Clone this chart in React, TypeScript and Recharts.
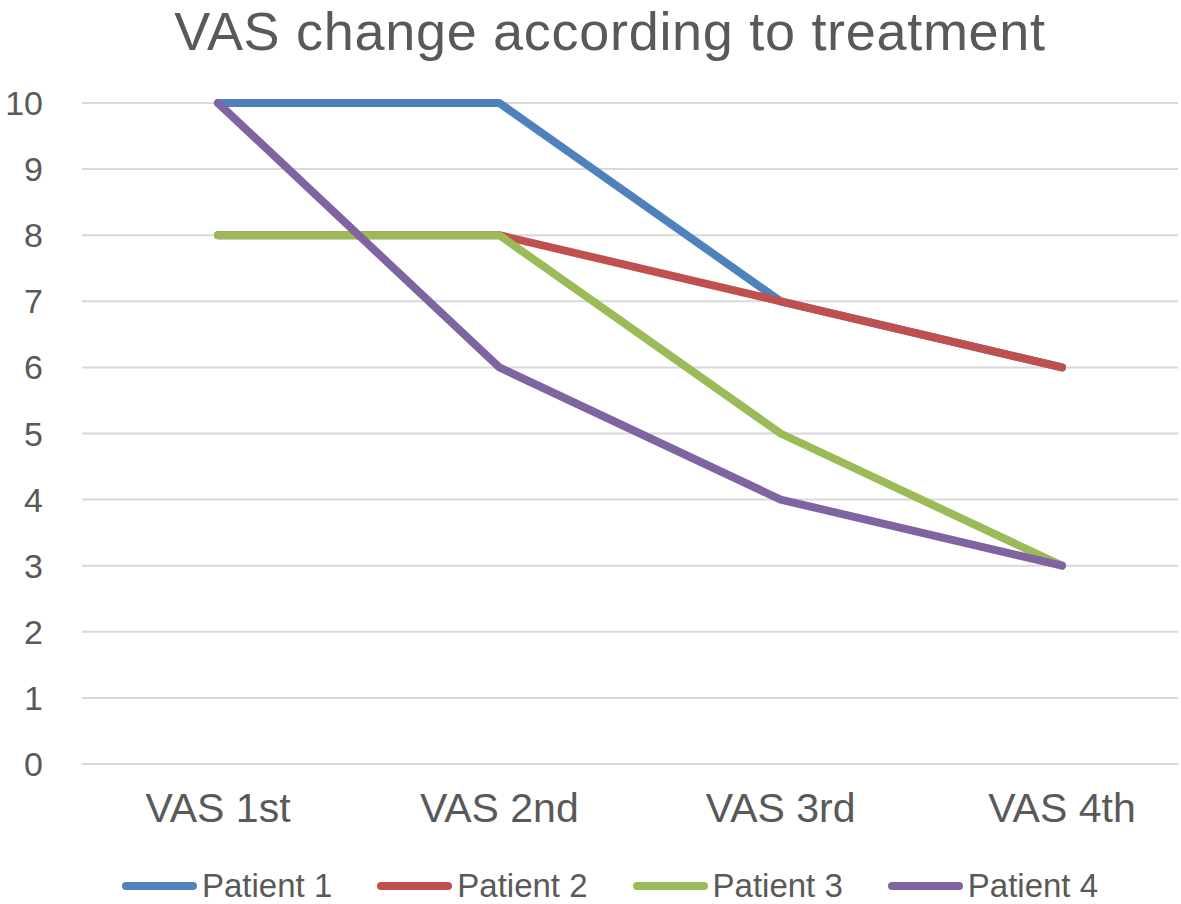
import React from 'react';
import { LineChart, Line, XAxis, YAxis, CartesianGrid } from 'recharts';

const categories = ['VAS 1st', 'VAS 2nd', 'VAS 3rd', 'VAS 4th'];
const patient1 = [10, 10, 7, 6];
const patient2 = [8, 8, 7, 6];
const patient3 = [8, 8, 5, 3];
const patient4 = [10, 6, 4, 3];
const yTicks = [0, 1, 2, 3, 4, 5, 6, 7, 8, 9, 10];

const seriesNames = ['Patient 1', 'Patient 2', 'Patient 3', 'Patient 4'];
const seriesColors = ['#4F81BD', '#C0504D', '#9BBB59', '#8064A2'];
const seriesValues = [patient1, patient2, patient3, patient4];

const data = categories.map((c, i) => {
  const row: Record<string, string | number> = { name: c };
  seriesNames.forEach((s, j) => {
    row[s] = seriesValues[j][i];
  });
  return row;
});

const FONT = '"Liberation Sans", Arial, sans-serif';
const TEXT = '#595959';

function LegendBox() {
  return (
    <div
      style={{
        position: 'absolute',
        left: 122,
        top: 868,
        height: 36,
        display: 'flex',
        alignItems: 'center',
        gap: 45,
        fontFamily: FONT,
        fontSize: 33,
        color: TEXT,
        lineHeight: '36px',
        whiteSpace: 'nowrap',
      }}
    >
      {seriesNames.map((s, j) => (
        <div key={s} style={{ display: 'flex', alignItems: 'center' }}>
          <svg width={75} height={12} style={{ marginRight: 5 }}>
            <line x1={4} y1={6} x2={71} y2={6} stroke={seriesColors[j]} strokeWidth={8} strokeLinecap="round" />
          </svg>
          <span>{s}</span>
        </div>
      ))}
    </div>
  );
}

export default function App() {
  return (
    <div style={{ position: 'absolute', left: 0, top: 0, width: 1181, height: 904, background: '#fff', overflow: 'hidden' }}>
      <LineChart
        width={1181}
        height={904}
        data={data}
        margin={{ top: 103, right: 3, bottom: 110, left: 0 }}
      >
        <CartesianGrid horizontal={true} vertical={false} stroke="#d9d9d9" strokeWidth={2} />
        <XAxis
          dataKey="name"
          height={30}
          padding={{ left: 136, right: 116 }}
          axisLine={false}
          tickLine={false}
          tickMargin={23}
          tick={{ fill: TEXT, fontSize: 41, fontFamily: FONT }}
        />
        <YAxis
          domain={[0, 10]}
          ticks={yTicks}
          width={82}
          axisLine={false}
          tickLine={false}
          tickMargin={33}
          tick={{ fill: TEXT, fontSize: 34, fontFamily: FONT }}
        />
        {seriesNames.map((s, j) => (
          <Line
            key={s}
            type="linear"
            dataKey={s}
            stroke={seriesColors[j]}
            strokeWidth={8}
            strokeLinecap="round"
            strokeLinejoin="round"
            dot={false}
            activeDot={false}
            isAnimationActive={false}
          />
        ))}
      </LineChart>
      <div
        style={{
          position: 'absolute',
          left: 0,
          top: 0,
          width: 1220,
          textAlign: 'center',
          fontFamily: FONT,
          fontSize: 54,
          letterSpacing: 0.7,
          color: TEXT,
          whiteSpace: 'nowrap',
        }}
      >
        VAS change according to treatment
      </div>
      <LegendBox />
    </div>
  );
}
